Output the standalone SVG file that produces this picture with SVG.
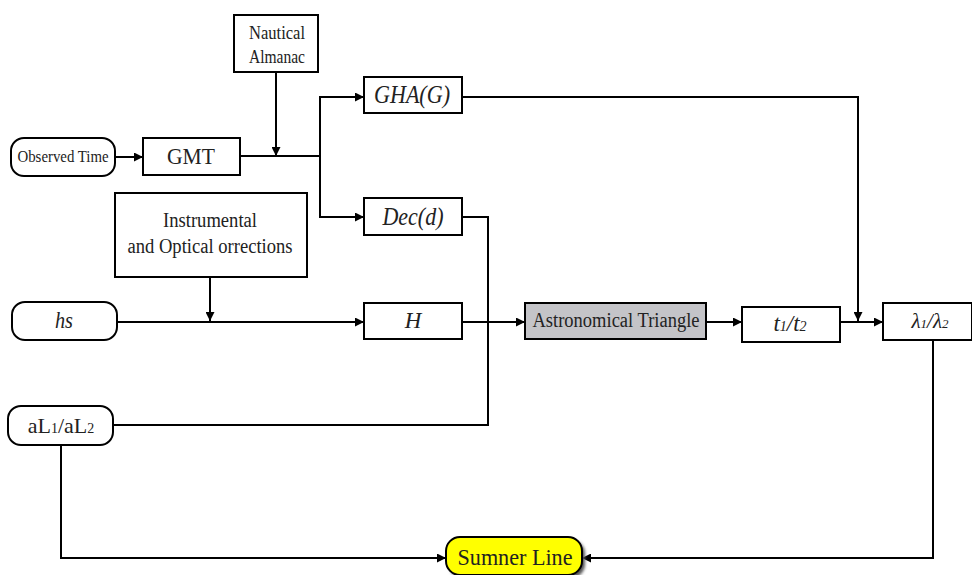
<svg xmlns="http://www.w3.org/2000/svg" width="972" height="575" viewBox="0 0 972 575">
<style>
.box{fill:#fff;stroke:#000;stroke-width:2}
.t{font-family:"Liberation Serif","Times New Roman",serif;fill:#222;text-anchor:middle}
.i{font-style:italic}
.c{fill:none;stroke:#000;stroke-width:2}
</style>
<defs>
<marker id="ah" viewBox="0 0 10 10" refX="10" refY="5" markerWidth="9" markerHeight="9" markerUnits="userSpaceOnUse" orient="auto">
<path d="M0,0 L10,5 L0,10 z" fill="#000"/>
</marker>
<filter id="sh" x="-20%" y="-30%" width="140%" height="160%">
<feGaussianBlur stdDeviation="1.5"/>
</filter>
</defs>
<rect width="972" height="575" fill="#fff"/>
<g id="connectors">
<path class="c" d="M115,157 H143" marker-end="url(#ah)"/>
<path class="c" d="M240,156 H320"/>
<path class="c" d="M276,72 V156" marker-end="url(#ah)"/>
<path class="c" d="M320,156 V97 H364" marker-end="url(#ah)"/>
<path class="c" d="M320,156 V217 H364" marker-end="url(#ah)"/>
<path class="c" d="M462,97 H858 V321" marker-end="url(#ah)"/>
<path class="c" d="M462,217 H488 V425 H113"/>
<path class="c" d="M210,277 V321" marker-end="url(#ah)"/>
<path class="c" d="M117,322 H364" marker-end="url(#ah)"/>
<path class="c" d="M462,322 H525" marker-end="url(#ah)"/>
<path class="c" d="M706,322 H742" marker-end="url(#ah)"/>
<path class="c" d="M840,322 H883" marker-end="url(#ah)"/>
<path class="c" d="M933,340 V558 H582" marker-end="url(#ah)"/>
<path class="c" d="M61,445 V558 H446" marker-end="url(#ah)"/>
</g>
<g id="observed-time">
<rect class="box" x="11" y="138" width="104" height="38" rx="13"/>
<text class="t" x="63" y="162" font-size="16" textLength="91" lengthAdjust="spacingAndGlyphs">Observed Time</text>
</g>
<g id="gmt">
<rect class="box" x="143" y="138" width="97" height="37"/>
<text class="t" x="191" y="164" font-size="24" textLength="48" lengthAdjust="spacingAndGlyphs">GMT</text>
</g>
<g id="nautical-almanac">
<rect class="box" x="234" y="15" width="84" height="57"/>
<text class="t" x="277" y="39" font-size="18" textLength="56" lengthAdjust="spacingAndGlyphs">Nautical</text>
<text class="t" x="277" y="63" font-size="18" textLength="56" lengthAdjust="spacingAndGlyphs">Almanac</text>
</g>
<g id="gha">
<rect class="box" x="364" y="77" width="98" height="36"/>
<text class="t i" x="412" y="103" font-size="25" textLength="76" lengthAdjust="spacingAndGlyphs">GHA(G)</text>
</g>
<g id="dec">
<rect class="box" x="364" y="198" width="98" height="37"/>
<text class="t i" x="413" y="225" font-size="25" textLength="61" lengthAdjust="spacingAndGlyphs">Dec(d)</text>
</g>
<g id="corrections">
<rect class="box" x="115" y="193" width="192" height="84"/>
<text class="t" x="210" y="227" font-size="20" textLength="94" lengthAdjust="spacingAndGlyphs">Instrumental</text>
<text class="t" x="210" y="253" font-size="20" textLength="165" lengthAdjust="spacingAndGlyphs">and Optical orrections</text>
</g>
<g id="hs">
<rect class="box" x="12" y="302" width="105" height="38" rx="13"/>
<text class="t i" x="64" y="328" font-size="24" textLength="18" lengthAdjust="spacingAndGlyphs">hs</text>
</g>
<g id="h">
<rect class="box" x="364" y="303" width="98" height="36"/>
<text class="t i" x="413" y="328" font-size="23">H</text>
</g>
<g id="astronomical-triangle">
<rect x="525" y="303" width="181" height="36" fill="#c4c4c8" stroke="#000" stroke-width="2"/>
<text class="t" x="616" y="327" font-size="20" textLength="167" lengthAdjust="spacingAndGlyphs">Astronomical Triangle</text>
</g>
<g id="t1t2">
<rect class="box" x="742" y="307" width="98" height="35"/>
<text class="t i" x="790" y="331" font-size="23">t<tspan font-size="14">1</tspan>/t<tspan font-size="14">2</tspan></text>
</g>
<g id="lambda">
<rect class="box" x="883" y="303" width="89" height="37"/>
<text class="t i" x="930" y="328" font-size="21">λ<tspan font-size="13">1</tspan>/λ<tspan font-size="13">2</tspan></text>
</g>
<g id="al">
<rect class="box" x="8" y="406" width="105" height="39" rx="13"/>
<text class="t" x="61" y="433" font-size="22">aL<tspan font-size="14">1</tspan>/aL<tspan font-size="14">2</tspan></text>
</g>
<g id="sumner-line">
<rect x="449" y="540" width="136" height="38" rx="14" fill="#555" filter="url(#sh)"/>
<rect x="446" y="537" width="136" height="38" rx="14" fill="#ffff00" stroke="#000" stroke-width="2"/>
<text class="t" x="515" y="565" font-size="24" textLength="115" lengthAdjust="spacingAndGlyphs" fill="#111">Sumner Line</text>
</g>
</svg>
